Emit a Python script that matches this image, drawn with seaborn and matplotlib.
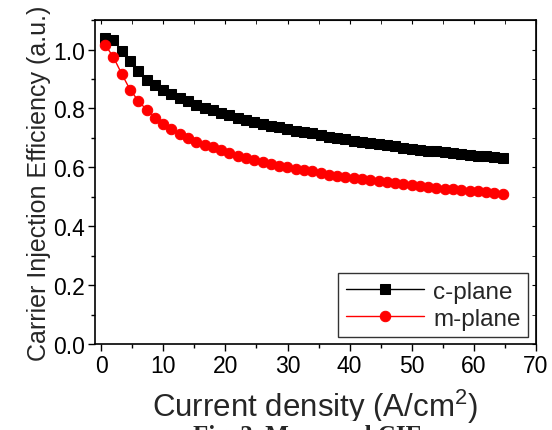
import numpy as np
import pandas as pd
import seaborn as sns
import matplotlib.pyplot as plt
from matplotlib.ticker import MultipleLocator

# current density (A/cm^2), shared by both series
current = [0.65, 1.98, 3.32, 4.65, 5.98, 7.32, 8.65, 9.98, 11.32, 12.65,
           13.98, 15.32, 16.65, 17.98, 19.32, 20.65, 21.98, 23.32, 24.65, 25.98,
           27.32, 28.65, 29.98, 31.32, 32.65, 33.98, 35.32, 36.65, 37.98, 39.32,
           40.65, 41.98, 43.32, 44.65, 45.98, 47.32, 48.65, 49.98, 51.32, 52.65,
           53.98, 55.32, 56.65, 57.98, 59.32, 60.65, 61.98, 63.32, 64.65]

c_plane = [1.039, 1.032, 0.995, 0.960, 0.927, 0.898, 0.880, 0.864, 0.849, 0.837,
           0.825, 0.812, 0.803, 0.794, 0.784, 0.777, 0.769, 0.762, 0.753, 0.748,
           0.742, 0.736, 0.731, 0.725, 0.719, 0.715, 0.709, 0.703, 0.699, 0.695,
           0.690, 0.685, 0.683, 0.680, 0.675, 0.671, 0.666, 0.663, 0.660, 0.657,
           0.655, 0.651, 0.648, 0.646, 0.643, 0.640, 0.638, 0.636, 0.632]

m_plane = [1.016, 0.974, 0.917, 0.864, 0.826, 0.795, 0.769, 0.746, 0.729, 0.714,
           0.700, 0.686, 0.676, 0.668, 0.658, 0.648, 0.640, 0.632, 0.625, 0.619,
           0.612, 0.606, 0.600, 0.596, 0.590, 0.586, 0.580, 0.574, 0.571, 0.567,
           0.564, 0.561, 0.558, 0.554, 0.550, 0.547, 0.544, 0.540, 0.537, 0.533,
           0.531, 0.528, 0.526, 0.523, 0.521, 0.519, 0.516, 0.514, 0.511]

sns.set_style('ticks')
plt.rcParams['font.family'] = ['Liberation Sans', 'DejaVu Sans']
plt.rcParams['mathtext.fontset'] = 'custom'
plt.rcParams['mathtext.rm'] = 'Liberation Sans'

fig = plt.figure(figsize=(5.52, 4.31), dpi=100)
ax = fig.add_axes([0.172, 0.1995, 0.799, 0.7515])

sns.lineplot(x=current, y=c_plane, ax=ax, color='black', linewidth=1,
             marker='s', markersize=6.5, markeredgecolor='black', label='c-plane')
sns.lineplot(x=current, y=m_plane, ax=ax, color='red', linewidth=1,
             marker='o', markersize=7.5, markeredgecolor='red', label='m-plane')

ax.set_xlim(-1, 70)
ax.set_ylim(0, 1.1)
ax.xaxis.set_major_locator(MultipleLocator(10))
ax.xaxis.set_minor_locator(MultipleLocator(5))
ax.yaxis.set_major_locator(MultipleLocator(0.2))
ax.yaxis.set_minor_locator(MultipleLocator(0.1))
ax.yaxis.set_major_formatter(plt.FormatStrFormatter('%.1f'))
ax.tick_params(which='major', direction='out', length=5, width=1, labelsize=16.5, colors='black', pad=2)
ax.tick_params(which='minor', direction='out', length=3, width=1, colors='black')
for s in ax.spines.values():
    s.set_visible(True)
    s.set_color('black')
    s.set_linewidth(1.2)

# origin-style inward ticks on top and right
top = ax.secondary_xaxis('top')
top.xaxis.set_major_locator(MultipleLocator(10))
top.xaxis.set_minor_locator(MultipleLocator(5))
top.tick_params(which='both', direction='in', labeltop=False, length=3, colors='black')
right = ax.secondary_yaxis('right')
right.yaxis.set_major_locator(MultipleLocator(0.2))
right.yaxis.set_minor_locator(MultipleLocator(0.1))
right.tick_params(which='both', direction='in', labelright=False, length=3, colors='black')

ax.set_xlabel('Current density (A/cm$\\mathregular{^2}$)', fontsize=22.5, labelpad=7)
ax.set_ylabel('Carrier Injection Efficiency (a.u.)', fontsize=18, labelpad=2)

leg = ax.legend(loc='lower right', bbox_to_anchor=(0.982, 0.022), borderaxespad=0,
                fontsize=17.5, frameon=True, fancybox=False, edgecolor='black',
                handlelength=3.2, handletextpad=0.4, borderpad=0.3, labelspacing=0.2)
leg.get_frame().set_linewidth(1)

fig.text(0.558, -0.028, 'Fig. 3. Measured CIE', family='Liberation Serif',
         weight='bold', fontsize=18, ha='center', va='baseline',
         bbox=dict(facecolor='white', edgecolor='none', pad=2))

fig.savefig('out.png', dpi=100)
